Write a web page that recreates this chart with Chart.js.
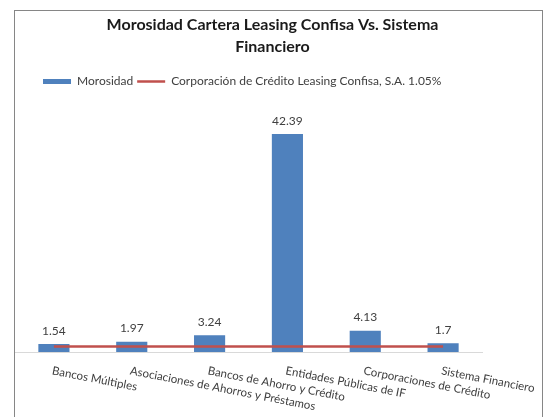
<!DOCTYPE html>
<html>
<head>
<meta charset="utf-8">
<script src="https://cdn.jsdelivr.net/npm/chart.js@4"></script>
<style>
  body { margin: 0; background: #fff; }
  #marco {
    position: absolute; left: 14px; top: 10px;
    width: 529px; height: 420px;
    border: 1px solid #868686; box-sizing: border-box;
  }
  #lienzo { position: absolute; left: 0; top: 0; width: 527px; height: 406px; }
</style>
</head>
<body>
<div id="marco"><div id="lienzo"><canvas id="myChart"></canvas></div></div>
<script>
// Datos del gráfico
const categorias = [
    "Bancos Múltiples",
    "Asociaciones de Ahorros y Préstamos",
    "Bancos de Ahorro y Crédito",
    "Entidades Públicas de IF",
    "Corporaciones de Crédito",
    "Sistema Financiero"
];
const morosidad = [1.54, 1.97, 3.24, 42.39, 4.13, 1.7];
const morosidadConfisa = [1.05, 1.05, 1.05, 1.05, 1.05, 1.05];

const tituloLineas = ["Morosidad Cartera Leasing Confisa Vs. Sistema", "Financiero"];
const nombreSerie = "Morosidad";
const nombreLinea = "Corporación de Crédito Leasing Confisa, S.A. 1.05%";

const fuente = "Lato, 'Open Sans', sans-serif";
const grisTexto = "#404040";

// Mueve leyenda y título a su lugar
const ajusteBloques = {
    id: "ajusteBloques",
    afterLayout: (chart) => {
        chart.legend.left += 24;
        chart.legend.right += 24;
        chart.titleBlock.left += 24;
        chart.titleBlock.right += 24;
    }
};

// Valores encima de cada barra
const etiquetasValor = {
    id: "etiquetasValor",
    afterDatasetsDraw: (chart) => {
        const {ctx} = chart;
        const meta = chart.getDatasetMeta(1);
        ctx.save();
        ctx.font = "12px " + fuente;
        ctx.fillStyle = grisTexto;
        ctx.textAlign = "center";
        ctx.textBaseline = "alphabetic";
        meta.data.forEach((barra, i) => {
            ctx.fillText(String(morosidad[i]), barra.x, barra.y - 9.5);
        });
        ctx.restore();
    }
};

// Etiquetas del eje X inclinadas hacia abajo a la derecha
const etiquetasEje = {
    id: "etiquetasEje",
    afterDraw: (chart) => {
        const {ctx} = chart;
        const eje = chart.scales.x;
        ctx.save();
        ctx.font = "11.5px " + fuente;
        ctx.fillStyle = grisTexto;
        ctx.textAlign = "left";
        ctx.textBaseline = "top";
        categorias.forEach((cat, i) => {
            ctx.save();
            ctx.translate(eje.getPixelForTick(i) - 0.5, eje.top + 13);
            ctx.rotate(11 * Math.PI / 180);
            ctx.fillText(cat, 0, 0);
            ctx.restore();
        });
        ctx.restore();
    }
};

const config = {
    data: {
        labels: categorias,
        datasets: [
            {
                type: "line",
                label: nombreLinea,
                data: morosidadConfisa,
                borderColor: "#C0504D",
                backgroundColor: "#C0504D",
                borderWidth: 2.5,
                pointRadius: 0,
                pointStyle: "line",
                fill: false,
                tension: 0,
                order: 0
            },
            {
                type: "bar",
                label: nombreSerie,
                data: morosidad,
                backgroundColor: "#4F81BD",
                borderWidth: 0,
                pointStyle: "rect",
                barPercentage: 0.4,
                categoryPercentage: 1,
                order: 1
            }
        ]
    },
    options: {
        responsive: true,
        maintainAspectRatio: false,
        animation: false,
        layout: { padding: { left: 0, right: 60, top: 0, bottom: 57 } },
        scales: {
            x: {
                grid: { display: false },
                ticks: { display: false },
                border: { display: true, color: "#D9D9D9", width: 1 }
            },
            y: {
                display: false,
                min: 0,
                max: 49.5
            }
        },
        plugins: {
            title: {
                display: true,
                text: tituloLineas,
                color: "#1a1a1a",
                font: { family: fuente, size: 16, weight: "bold", lineHeight: 1.36 },
                padding: { top: 3, bottom: 14 }
            },
            legend: {
                display: true,
                align: "start",
                labels: {
                    usePointStyle: true,
                    pointStyleWidth: 28,
                    boxHeight: 5,
                    padding: 4,
                    color: grisTexto,
                    font: { family: fuente, size: 12 },
                    sort: (a, b) => b.datasetIndex - a.datasetIndex
                }
            },
            tooltip: { enabled: false }
        }
    },
    plugins: [ajusteBloques, etiquetasValor, etiquetasEje]
};

const myChart = new Chart(document.querySelector("#myChart"), config);
</script>
</body>
</html>
